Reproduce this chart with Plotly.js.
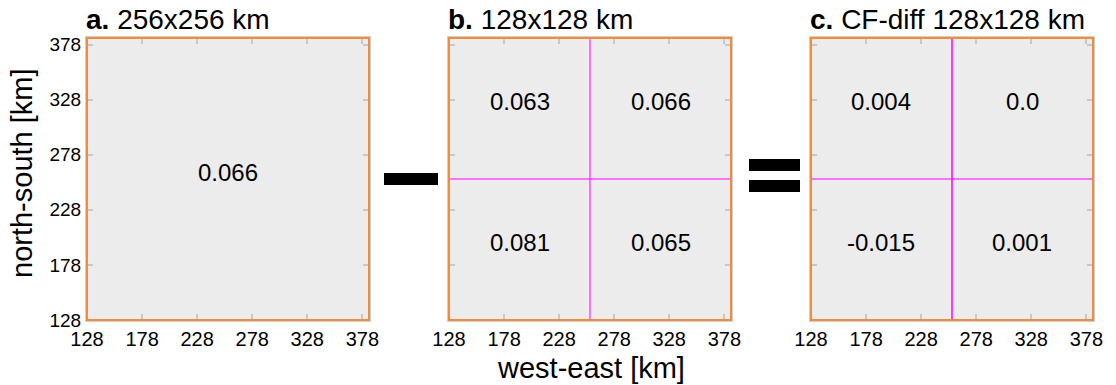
<!DOCTYPE html>
<html>
<head>
<meta charset="utf-8">
<script src="https://cdn.plot.ly/plotly-3.0.1.min.js"></script>
<style>html,body{margin:0;padding:0;background:#fff;}#chart{width:1116px;height:385px;}</style>
</head>
<body>
<div id="chart"></div>
<script>
// ---- data ----
const panelTitlesBold = ['a.', 'b.', 'c.'];
const panelTitlesText = ['256x256 km', '128x128 km', 'CF-diff 128x128 km'];
const tickVals = [128, 178, 228, 278, 328, 378];
const tickLabels = ['128', '178', '228', '278', '328', '378'];
const axisRange = [128, 384];
const splitAt = 256;
// panel a: one cell centred on domain
const aX = [256];
const aY = [256];
const aVals = ['0.066'];
// panel b: four quadrants
const bX = [192, 320, 192, 320];
const bY = [320, 320, 192, 192];
const bVals = ['0.063', '0.066', '0.081', '0.065'];
// panel c: differences
const cX = [192, 320, 192, 320];
const cY = [320, 320, 192, 192];
const cVals = ['0.004', '0.0', '-0.015', '0.001'];

const W = 1116, H = 385;
const domX = [[87 / W, 369 / W], [449 / W, 731 / W], [811 / W, 1093 / W]];
const domY = [1 - 320 / H, 1 - 38 / H];
const FONT = 'Liberation Sans, Arial, Helvetica, sans-serif';
const ORANGE = '#f28c3a';
const MAGENTA = '#ff00ff';

function xax(i) {
  return {
    domain: domX[i], range: axisRange, anchor: i === 0 ? 'y' : 'y' + (i + 1),
    tickmode: 'array', tickvals: tickVals, ticktext: tickLabels,
    ticks: 'inside', ticklen: 6, tickwidth: 2, tickcolor: '#c8c8c8',
    showgrid: false, zeroline: false, showline: true, mirror: 'allticks',
    linecolor: '#d0d0d0', linewidth: 2,
    tickfont: {family: FONT, size: 20, color: '#000'}, fixedrange: true
  };
}
function yax(i) {
  return {
    domain: domY, range: axisRange, anchor: i === 0 ? 'x' : 'x' + (i + 1),
    tickmode: 'array', tickvals: tickVals, ticktext: tickLabels,
    showticklabels: i === 0,
    ticks: 'inside', ticklen: 6, tickwidth: 2, tickcolor: '#c8c8c8',
    showgrid: false, zeroline: false, showline: true, mirror: 'allticks',
    linecolor: '#d0d0d0', linewidth: 2,
    tickfont: {family: FONT, size: 19, color: '#000'}, fixedrange: true
  };
}

const shapes = [];
const annotations = [];
const panels = [[aX, aY, aVals], [bX, bY, bVals], [cX, cY, cVals]];
panels.forEach((p, i) => {
  const xr = i === 0 ? 'x' : 'x' + (i + 1);
  const yr = i === 0 ? 'y' : 'y' + (i + 1);
  p[2].forEach((t, k) => {
    annotations.push({
      xref: xr, yref: yr, x: p[0][k], y: p[1][k], text: t, showarrow: false,
      xanchor: 'center', yanchor: 'middle', yshift: 7,
      font: {family: FONT, size: 24, color: '#000'}
    });
  });
});
// invisible traces so axes are drawn
const traces = panels.map((p, i) => ({
  type: 'scatter', mode: 'markers', x: p[0], y: p[1],
  marker: {opacity: 0, size: 1},
  xaxis: i === 0 ? 'x' : 'x' + (i + 1),
  yaxis: i === 0 ? 'y' : 'y' + (i + 1),
  hoverinfo: 'skip', showlegend: false
}));

for (let i = 0; i < 3; i++) {
  const xr = i === 0 ? 'x' : 'x' + (i + 1);
  const yr = i === 0 ? 'y' : 'y' + (i + 1);
  if (i > 0) {
    shapes.push({type: 'line', xref: xr, yref: yr, x0: splitAt, x1: splitAt, y0: axisRange[0], y1: axisRange[1],
      line: {color: MAGENTA, width: i === 2 ? 1.5 : 1}, layer: 'above'});
    shapes.push({type: 'line', xref: xr, yref: yr, x0: axisRange[0], x1: axisRange[1], y0: splitAt, y1: splitAt,
      line: {color: MAGENTA, width: 1}, layer: 'above'});
  }
  shapes.push({type: 'rect', xref: xr + ' domain', yref: yr + ' domain', x0: 0, x1: 1, y0: 0, y1: 1,
    line: {color: ORANGE, width: 2}, layer: 'above'});
  annotations.push({
    xref: 'paper', yref: 'paper', x: domX[i][0] - 3 / W, y: 1 - 19 / H,
    xanchor: 'left', yanchor: 'middle', showarrow: false,
    text: '<b>' + panelTitlesBold[i] + '</b> ' + panelTitlesText[i],
    font: {family: FONT, size: 28, color: '#000'}
  });
}
// minus sign
shapes.push({type: 'rect', xref: 'paper', yref: 'paper', x0: 384 / W, x1: 438 / W, y0: 1 - 185 / H, y1: 1 - 173 / H,
  fillcolor: '#000', line: {width: 0}});
// equals sign
shapes.push({type: 'rect', xref: 'paper', yref: 'paper', x0: 749 / W, x1: 800 / W, y0: 1 - 171 / H, y1: 1 - 159 / H,
  fillcolor: '#000', line: {width: 0}});
shapes.push({type: 'rect', xref: 'paper', yref: 'paper', x0: 749 / W, x1: 800 / W, y0: 1 - 192 / H, y1: 1 - 180 / H,
  fillcolor: '#000', line: {width: 0}});

// axis titles
annotations.push({xref: 'paper', yref: 'paper', x: 591 / W, y: 1 - 368 / H, xanchor: 'center', yanchor: 'middle',
  showarrow: false, text: 'west-east [km]', font: {family: FONT, size: 29, color: '#000'}});
annotations.push({xref: 'paper', yref: 'paper', x: 22 / W, y: 1 - 173 / H, xanchor: 'center', yanchor: 'middle',
  showarrow: false, textangle: -90, text: 'north-south [km]', font: {family: FONT, size: 29, color: '#000'}});

const layout = {
  width: W, height: H,
  margin: {l: 0, r: 0, t: 0, b: 0},
  paper_bgcolor: '#ffffff', plot_bgcolor: '#ececec',
  showlegend: false,
  xaxis: xax(0), yaxis: yax(0),
  xaxis2: xax(1), yaxis2: yax(1),
  xaxis3: xax(2), yaxis3: yax(2),
  shapes: shapes, annotations: annotations,
  font: {family: FONT}
};
Plotly.newPlot('chart', traces, layout, {staticPlot: true, displayModeBar: false});
</script>
</body>
</html>
